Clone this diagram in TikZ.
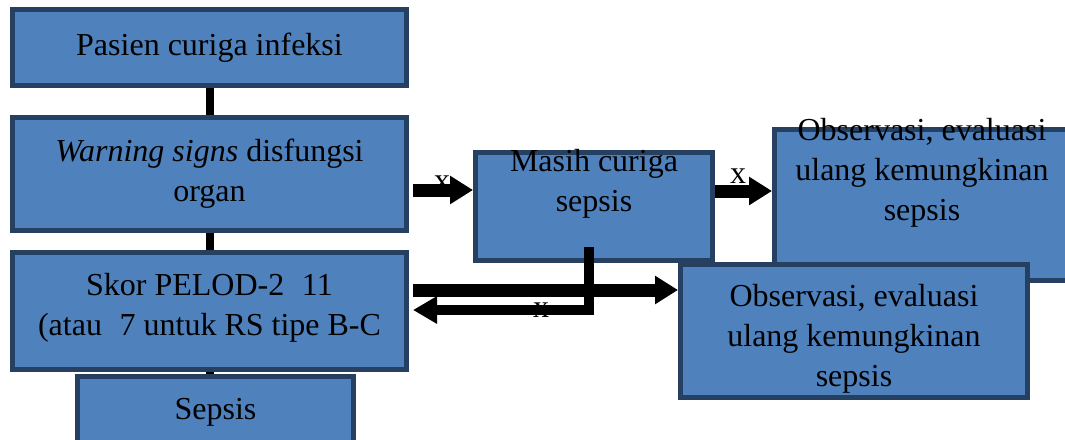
\documentclass[tikz,border=0pt]{standalone}
\usepackage{fontspec}
\setmainfont{Liberation Serif}
\usetikzlibrary{positioning, arrows.meta}

\definecolor{boxfill}{RGB}{79,129,189}
\definecolor{boxline}{RGB}{38,64,98}

\begin{document}
\begin{tikzpicture}[
  x=1pt, y=-1pt,
  box/.style={
    rectangle, draw=boxline, line width=5pt, fill=boxfill,
    inner sep=0pt, outer sep=2.5pt
  },
  txt/.style={
    align=center, inner sep=0pt,
    font=\fontsize{32}{40}\selectfont
  },
  lbl/.style={
    inner sep=0pt, font=\fontsize{32}{40}\selectfont
  },
  link/.style={
    line width=8pt, color=black
  },
  arr/.style={
    -{Triangle[length=23pt, width=27pt]}, line width=13pt, color=black
  },
  back/.style={
    -{Triangle[length=24pt, width=26pt]}, line width=10pt, color=black
  }
]
\useasboundingbox (0,0) rectangle (1065,439);

% ================= Left column =================
\node[box, minimum width=394pt, minimum height=76pt] (pasien) at (209.5,47.5) {};
\node[txt] (pasien-t) at ([yshift=0pt]pasien.center) {Pasien curiga infeksi};

\node[box, minimum width=394pt, minimum height=113pt, below=27pt of pasien] (warning) {};
\node[txt] (warning-t) at ([yshift=0.5pt]warning.center) {\textit{Warning signs} disfungsi\\organ};

\node[box, minimum width=394pt, minimum height=117pt, below=17pt of warning] (skor) {};
\node[txt] (skor-t) at ([yshift=3pt]skor.center) {Skor PELOD-2\hspace{0.55em}11\\(atau\hspace{0.55em}7 untuk RS tipe B-C};

\node[box, minimum width=276pt, minimum height=67pt, below=2pt of skor, xshift=6pt] (sepsis) {};
\node[txt] (sepsis-t) at ([yshift=-2.5pt]sepsis.center) {Sepsis};

% ================= Right side =================
\node[box, minimum width=237pt, minimum height=108pt] (masih) at (594,206.5) {};
\node[txt] (masih-t) at ([yshift=23pt]masih.center) {Masih curiga\\sepsis};

\node[box, minimum width=295pt, minimum height=151pt] (obs1) at (922,205) {};
\node[txt] (obs1-t) at ([yshift=32pt]obs1.center) {Observasi, evaluasi\\ulang kemungkinan\\sepsis};

\node[box, minimum width=347pt, minimum height=133pt] (obs2) at (854,331) {};
\node[txt] (obs2-t) at ([yshift=-8pt]obs2.center) {Observasi, evaluasi\\ulang kemungkinan\\sepsis};

% ================= Rows of the arrows =================
\coordinate (rowA) at (0,190);
\coordinate (rowB) at (0,191);
\coordinate (rowC) at (0,290);
\coordinate (rowD) at (0,310);
\coordinate (drop) at (589,247);

% ================= Labels =================
\node[lbl, anchor=base] (xA) at (442,190) {x};
\node[lbl, anchor=base] (xB) at (738,183) {x};
\node[lbl, anchor=base] (xD) at (541,317) {x};

% ================= Connections =================
\draw[link] (pasien.south) -- (warning.north);
\draw[link] (warning.south) -- (skor.north);
\draw[link] (skor.south) -- (skor.south |- sepsis.north);

\draw[arr, shorten <=4pt] (warning.east |- rowA) -- (masih.west |- rowA);
\draw[arr] (masih.east |- rowB) -- (obs1.west |- rowB);
\draw[arr, shorten <=4pt] (skor.east |- rowC) -- (obs2.west |- rowC);
\draw[back, shorten >=4pt] (drop) |- (skor.east |- rowD);

\end{tikzpicture}
\end{document}
